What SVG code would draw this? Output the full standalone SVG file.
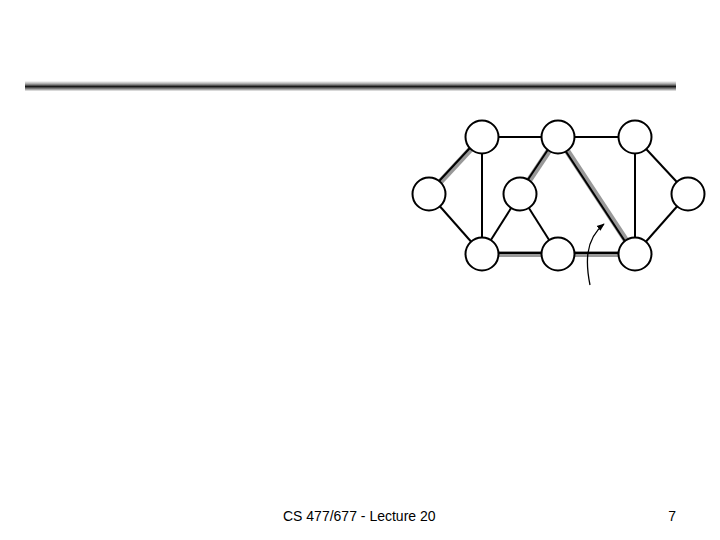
<svg xmlns="http://www.w3.org/2000/svg" width="720" height="540" viewBox="0 0 720 540">
<defs>
<linearGradient id="bar" x1="0" y1="0" x2="0" y2="1">
<stop offset="0" stop-color="#ffffff"/>
<stop offset="0.3" stop-color="#a0a0a0"/>
<stop offset="0.55" stop-color="#1a1a1a"/>
<stop offset="0.8" stop-color="#909090"/>
<stop offset="1" stop-color="#f0f0f0"/>
</linearGradient>
<marker id="arr" viewBox="0 0 10 10" refX="9" refY="5" markerWidth="6" markerHeight="6" orient="auto">
<path d="M0,1 L10,5 L0,9 z" fill="#000"/>
</marker>
<style>
.e{stroke:#000;stroke-width:2;fill:none}
.h{stroke:#999;stroke-width:6;fill:none}
.n{fill:#fff;stroke:#000;stroke-width:2}
.t{font-family:"Liberation Sans",Arial,sans-serif;font-size:14px;fill:#000}
</style>
</defs>
<rect width="720" height="540" fill="#fff"/>
<rect x="25" y="81" width="651" height="10" fill="url(#bar)"/>
<g id="connectors">
<line class="h" x1="482" y1="137" x2="429" y2="194"/>
<line class="h" x1="558" y1="137" x2="520" y2="194"/>
<line class="h" x1="558" y1="137" x2="635" y2="254"/>
<line class="h" x1="482" y1="254" x2="558" y2="254"/>
<line class="h" x1="558" y1="254" x2="635" y2="254"/>
<line class="e" x1="482" y1="137" x2="558" y2="137"/>
<line class="e" x1="558" y1="137" x2="635" y2="137"/>
<line class="e" x1="481" y1="136" x2="428" y2="193"/>
<line class="e" x1="482" y1="137" x2="482" y2="254"/>
<line class="e" x1="429" y1="194" x2="482" y2="254"/>
<line class="e" x1="557" y1="136" x2="519" y2="193"/>
<line class="e" x1="557" y1="138" x2="634" y2="255"/>
<line class="e" x1="635" y1="137" x2="635" y2="254"/>
<line class="e" x1="635" y1="137" x2="688" y2="194"/>
<line class="e" x1="688" y1="194" x2="635" y2="254"/>
<line class="e" x1="520" y1="194" x2="482" y2="254"/>
<line class="e" x1="520" y1="194" x2="558" y2="254"/>
<line class="e" x1="482" y1="253" x2="558" y2="253"/>
<line class="e" x1="558" y1="253" x2="635" y2="253"/>
<path d="M590,285 C586,265 584,240 604,224" stroke="#000" stroke-width="1.3" fill="none" marker-end="url(#arr)"/>
</g>
<g id="n1"><circle class="n" cx="482" cy="137" r="16.5"/></g>
<g id="n2"><circle class="n" cx="558" cy="137" r="16.5"/></g>
<g id="n3"><circle class="n" cx="635" cy="137" r="16.5"/></g>
<g id="n4"><circle class="n" cx="429" cy="194" r="16.5"/></g>
<g id="n5"><circle class="n" cx="520" cy="194" r="16.5"/></g>
<g id="n6"><circle class="n" cx="688" cy="194" r="16.5"/></g>
<g id="n7"><circle class="n" cx="482" cy="254" r="16.5"/></g>
<g id="n8"><circle class="n" cx="558" cy="254" r="16.5"/></g>
<g id="n9"><circle class="n" cx="635" cy="254" r="16.5"/></g>
<text class="t" x="283" y="521">CS 477/677 - Lecture 20</text>
<text class="t" x="676" y="521" text-anchor="end">7</text>
</svg>
